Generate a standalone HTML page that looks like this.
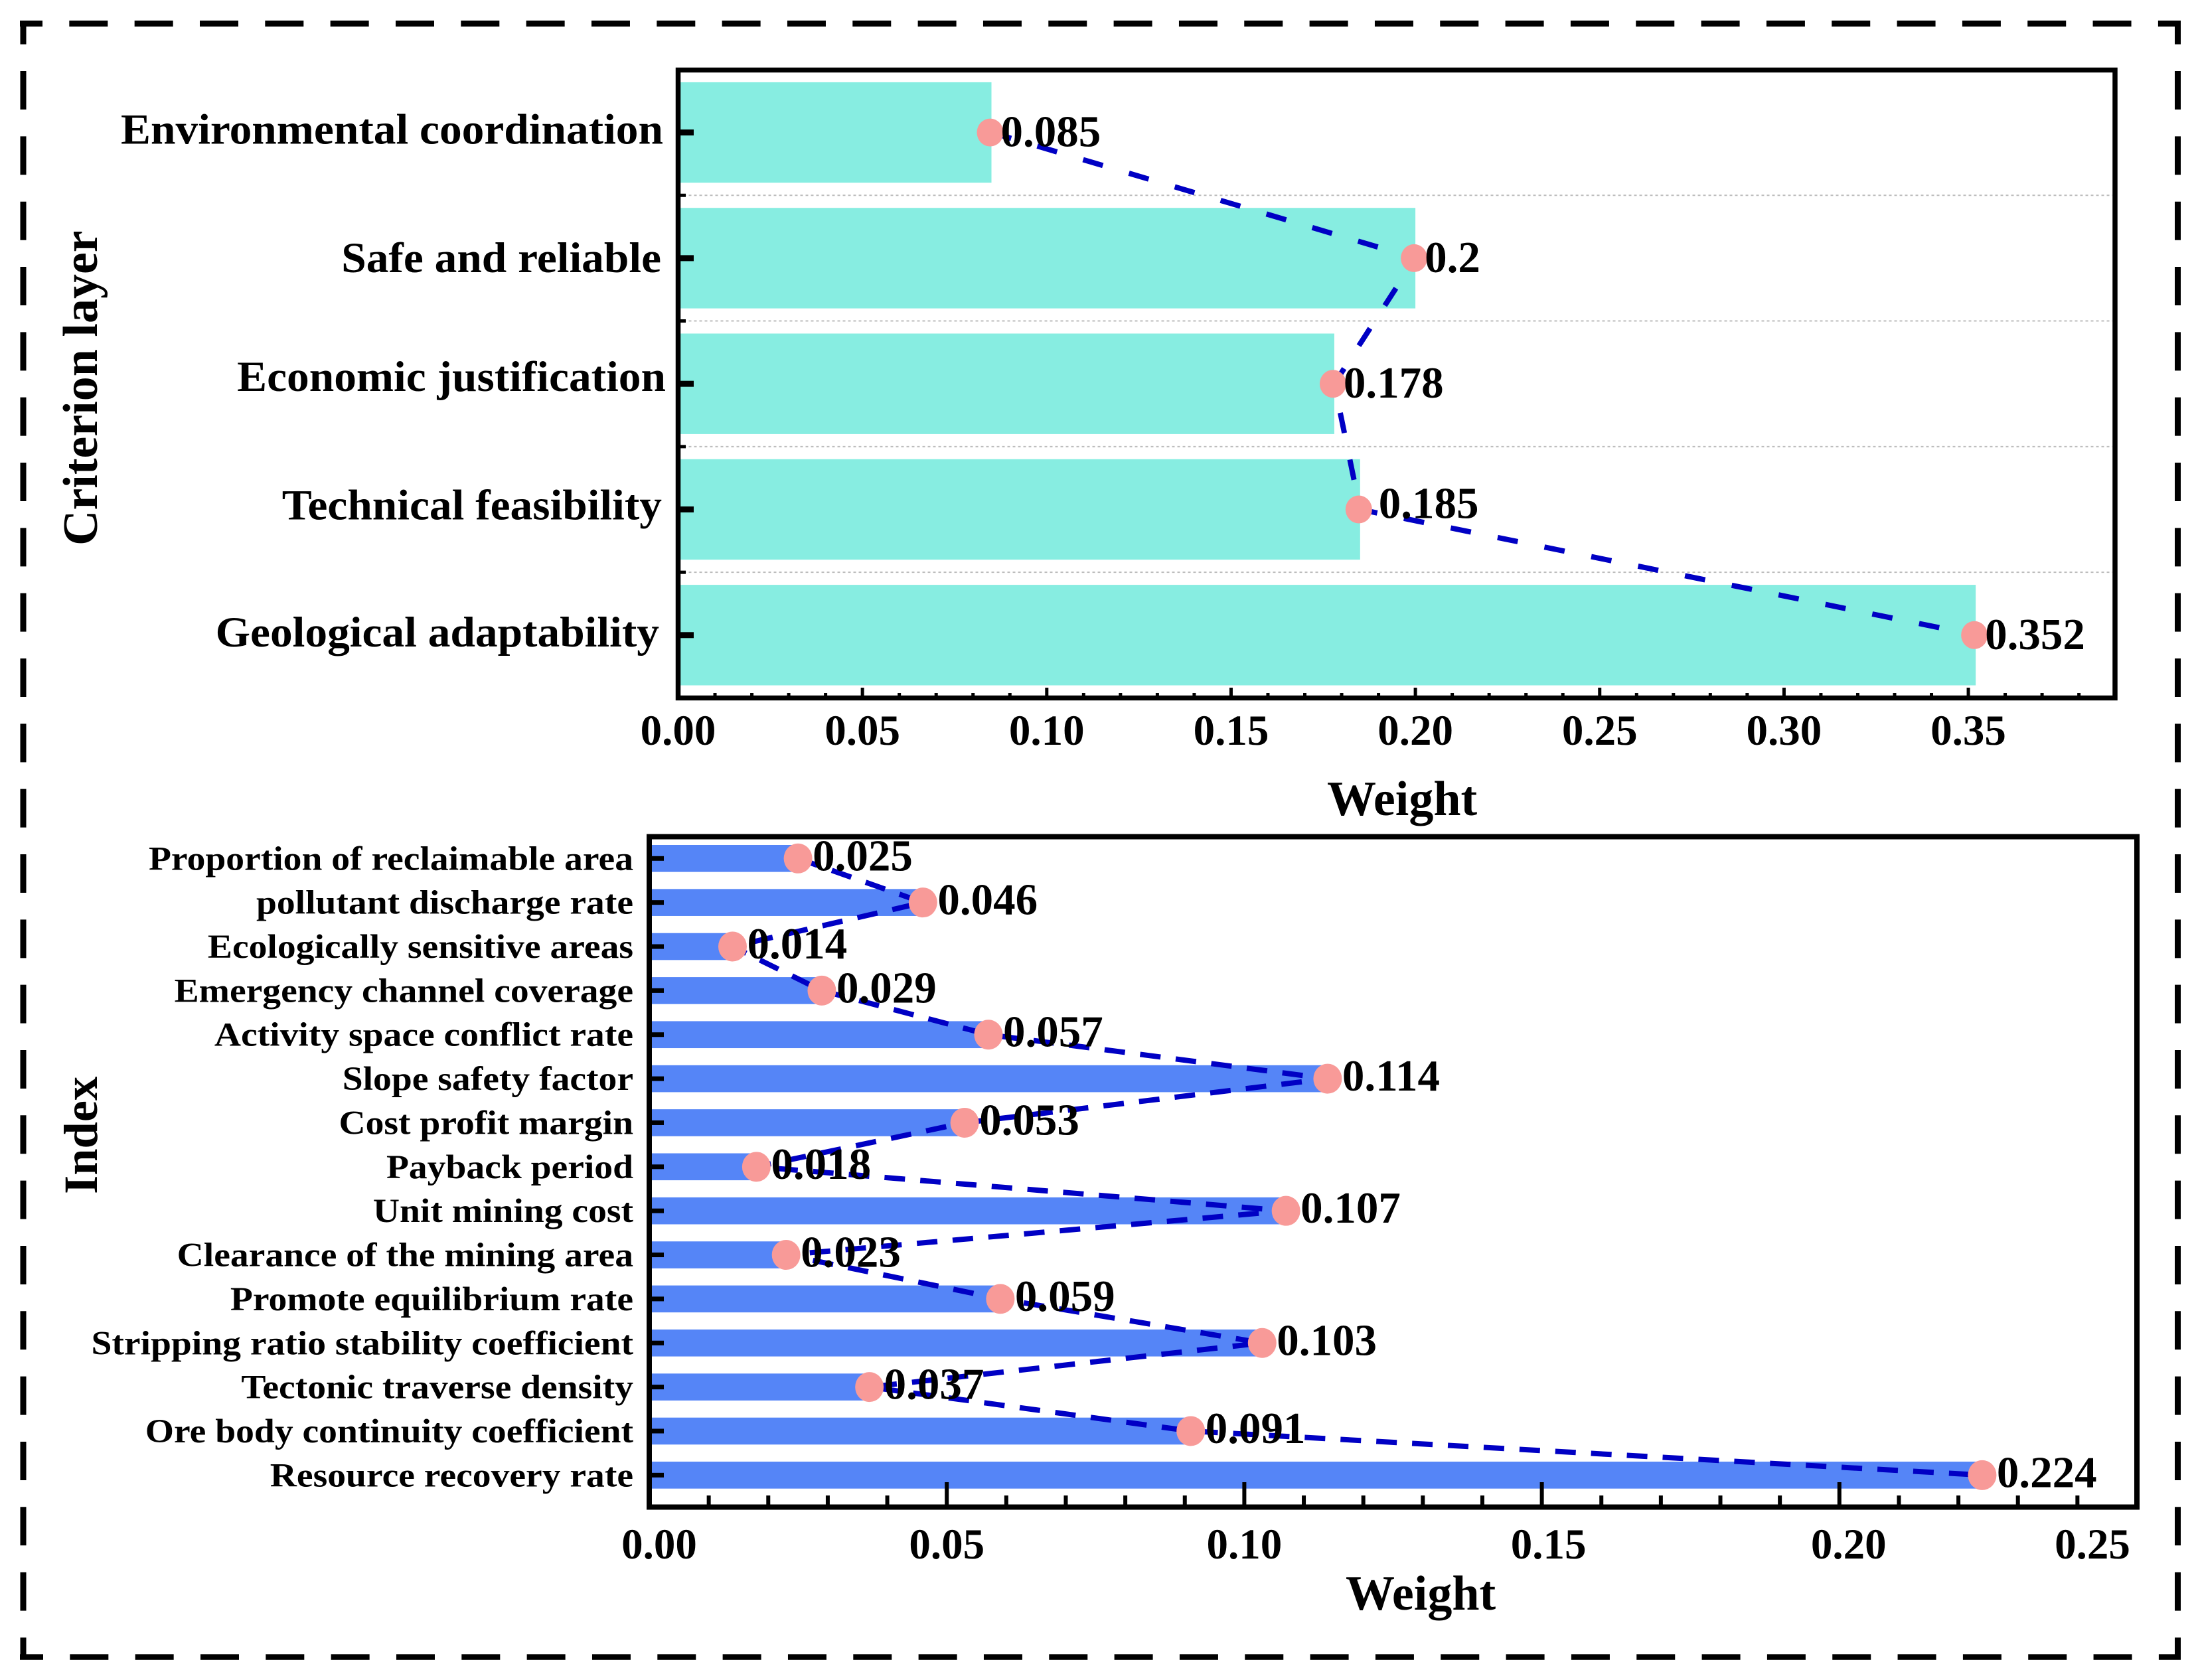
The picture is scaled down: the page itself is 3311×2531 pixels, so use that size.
<!DOCTYPE html>
<html lang="en">
<head>
<meta charset="utf-8">
<title>Criterion layer and index weights</title>
<style>
html,body{margin:0;padding:0;background:#fff;}
svg{display:block;}
text{font-family:"Liberation Serif",serif;font-weight:bold;fill:#000;}
</style>
</head>
<body>
<svg id="chart" xmlns="http://www.w3.org/2000/svg" width="3311" height="2531" viewBox="0 0 3311 2531">
  <rect x="0" y="0" width="3311" height="2531" fill="#fff"/>
  <g stroke="#000" fill="none">
    <line x1="30" y1="35.5" x2="3285" y2="35.5" stroke-width="9" stroke-dasharray="58 40.33" stroke-dashoffset="24"/>
    <line x1="30" y1="2496.5" x2="3285" y2="2496.5" stroke-width="8.5" stroke-dasharray="58 40.33" stroke-dashoffset="23"/>
    <line x1="35" y1="31" x2="35" y2="2500" stroke-width="9" stroke-dasharray="58 40.33" stroke-dashoffset="22.3"/>
    <line x1="3280.5" y1="31" x2="3280.5" y2="2500" stroke-width="9" stroke-dasharray="58 40.33" stroke-dashoffset="22.3"/>
  </g>
  <g id="top-panel"></g>
  <g id="bottom-panel"></g>
  <text x="146" y="822" transform="rotate(-90 146 822)" font-size="74">Criterion layer</text>
  <text x="1999" y="1228" font-size="74">Weight</text>
  <text x="146" y="1799" transform="rotate(-90 146 1799)" font-size="72.5">Index</text>
  <text x="2027" y="2425" font-size="74">Weight</text>
</svg>
<script>
const criterionCategories = ["Environmental coordination", "Safe and reliable", "Economic justification", "Technical feasibility", "Geological adaptability"];
const criterionWeights = [0.085, 0.2, 0.178, 0.185, 0.352];
const criterionTickValues = [0, 0.05, 0.10, 0.15, 0.20, 0.25, 0.30, 0.35];
const criterionTickLabels = ["0.00", "0.05", "0.10", "0.15", "0.20", "0.25", "0.30", "0.35"];

const indexCategories = ["Proportion of reclaimable area", "pollutant discharge rate", "Ecologically sensitive areas", "Emergency channel coverage", "Activity space conflict rate", "Slope safety factor", "Cost profit margin", "Payback period", "Unit mining cost", "Clearance of the mining area", "Promote equilibrium rate", "Stripping ratio stability coefficient", "Tectonic traverse density", "Ore body continuity coefficient", "Resource recovery rate"];
const indexWeights = [0.025, 0.046, 0.014, 0.029, 0.057, 0.114, 0.053, 0.018, 0.107, 0.023, 0.059, 0.103, 0.037, 0.091, 0.224];
const indexTickValues = [0, 0.05, 0.10, 0.15, 0.20, 0.25];
const indexTickLabels = ["0.00", "0.05", "0.10", "0.15", "0.20", "0.25"];

const SVGNS = "http://www.w3.org/2000/svg";
function mk(parent, tag, attrs) {
  const el = document.createElementNS(SVGNS, tag);
  for (const k in attrs) el.setAttribute(k, attrs[k]);
  parent.appendChild(el);
  return el;
}

/* top panel axis functions */
const topX = v => 1021.5 + v * 5553;
const topY = i => 199.6 + i * 189.3;
/* bottom panel axis functions */
const botX = v => 978 + v * 8964;
const botY = i => 1293.3 + i * 66.36;

const topPanel = document.getElementById("top-panel");
const botPanel = document.getElementById("bottom-panel");

/* hand-placed label shifts seen in the reference (layout only, not data) */
const criterionCategoryShiftX = [2, -1, 6, 0, -4];
const criterionCategoryShiftY = [0, 4, -6, -2, 0];
const criterionValueShiftX = [0, 0, 0, 14, 0];
const criterionValueShiftY = [0, 0, 0, -8, 0];
const indexTickLabelShift = [15, 0, 0, 10, 14, -67];

/* ---------- top panel ---------- */
criterionWeights.forEach((v, i) => {
  const bar = mk(topPanel, "rect", {x: topX(0), y: topY(i) - 75.7, width: topX(v) - topX(0), height: 151.4, fill: "#87EDE1"});
  
  
});
criterionWeights.slice(1).forEach((v, i) => {
  const yy = topY(i) + 94.65;
  const grid = mk(topPanel, "line", {x1: topX(0), x2: 3182, y1: yy, y2: yy, stroke: "#bdbdbd", "stroke-width": 2, "stroke-dasharray": "4 4"});
  
  
  const minor = mk(topPanel, "rect", {x: 1022, y: yy - 2.5, width: 11, height: 5, fill: "#000"});
  
  
});
const topLine = mk(topPanel, "polyline", {
  points: criterionWeights.map((v, i) => topX(v) + "," + topY(i)).join(" "),
  fill: "none", stroke: "#0000C4", "stroke-width": 8, "stroke-dasharray": "31 41"
});


criterionWeights.forEach((v, i) => {
  const dot = mk(topPanel, "ellipse", {cx: topX(v) - 2, cy: topY(i), rx: 20, ry: 21, fill: "#F89A98"});
  
  
  const val = mk(topPanel, "text", {x: topX(v) + 14 + criterionValueShiftX[i], y: topY(i) + 21 + criterionValueShiftY[i], "font-size": 67});
  val.textContent = String(v);
  
  
  const tick = mk(topPanel, "rect", {x: 1022, y: topY(i) - 4.5, width: 23, height: 9, fill: "#000"});
  
  
  const cat = mk(topPanel, "text", {
    transform: "translate(" + (997 + criterionCategoryShiftX[i]) + " " + (topY(i) + 17 + criterionCategoryShiftY[i]) + ") scale(1.037 1)",
    x: 0, y: 0, "font-size": 65, "text-anchor": "end"
  });
  cat.textContent = criterionCategories[i];
  
  
});
for (let k = 1; k < 39; k++) {
  if (k % 5 === 0) continue;
  const mt = mk(topPanel, "rect", {x: topX(k / 100) - 2.5, y: 1044, width: 5, height: 6, fill: "#000"});
  
  
}
criterionTickValues.forEach((v, i) => {
  const mt = mk(topPanel, "rect", {x: topX(v) - 2.5, y: 1036, width: 5, height: 14, fill: "#000"});
  
  
  const lab = mk(topPanel, "text", {x: topX(v), y: 1122, "font-size": 65, "text-anchor": "middle"});
  lab.textContent = criterionTickLabels[i];
  
  
});
const topFrame = mk(topPanel, "rect", {x: 1021.5, y: 105.5, width: 2164.5, height: 946, fill: "none", stroke: "#000", "stroke-width": 7.5});



/* ---------- bottom panel ---------- */
indexWeights.forEach((v, i) => {
  const bar = mk(botPanel, "rect", {x: botX(0), y: botY(i) - 20.3, width: botX(v) - botX(0), height: 40.6, fill: "#5585F7"});
  
  
});
for (let k = 1; k < 25; k++) {
  if (k % 5 === 0) continue;
  const mt = mk(botPanel, "rect", {x: botX(k / 100) - 3, y: 2253, width: 6, height: 14, fill: "#000"});
  
  
}
indexTickValues.forEach((v, i) => {
  if (i > 0 && i < indexTickValues.length - 1) {
    const mt = mk(botPanel, "rect", {x: botX(v) - 3, y: 2233, width: 6, height: 34, fill: "#000"});
    
    
  }
  const lab = mk(botPanel, "text", {x: botX(v) + indexTickLabelShift[i], y: 2348, "font-size": 65, "text-anchor": "middle"});
  lab.textContent = indexTickLabels[i];
  
  
});
const botLine = mk(botPanel, "polyline", {
  points: indexWeights.map((v, i) => botX(v) + "," + botY(i)).join(" "),
  fill: "none", stroke: "#0000C4", "stroke-width": 8, "stroke-dasharray": "31 23"
});


indexWeights.forEach((v, i) => {
  const dot = mk(botPanel, "ellipse", {cx: botX(v), cy: botY(i), rx: 21.5, ry: 22.5, fill: "#F89A98"});
  
  
  const val = mk(botPanel, "text", {x: botX(v) + 22, y: botY(i) + 18, "font-size": 67});
  val.textContent = String(v);
  
  
  const tick = mk(botPanel, "rect", {x: 979, y: botY(i) - 3.5, width: 21, height: 7, fill: "#000"});
  
  
  const cat = mk(botPanel, "text", {
    transform: "translate(954 " + (botY(i) + 17) + ") scale(1.09 1)",
    x: 0, y: 0, "font-size": 51, "text-anchor": "end"
  });
  cat.textContent = indexCategories[i];
  
  
});
const botFrame = mk(botPanel, "rect", {x: 978, y: 1260.5, width: 2241, height: 1010, fill: "none", stroke: "#000", "stroke-width": 8});


</script>
</body>
</html>
